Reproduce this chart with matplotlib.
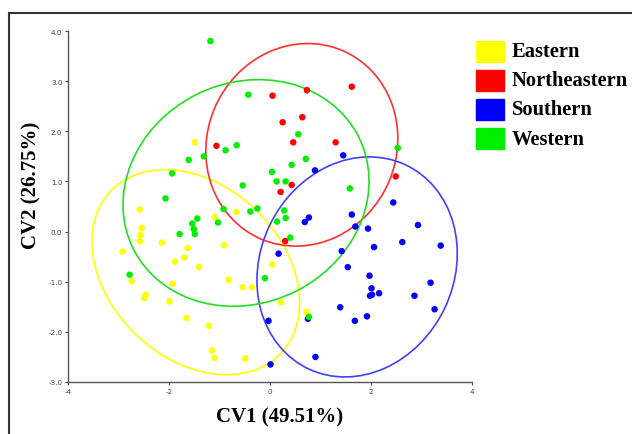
import matplotlib.pyplot as plt
import numpy as np
from matplotlib.patches import Ellipse, Rectangle
from matplotlib.lines import Line2D

plt.rcParams['axes.unicode_minus'] = False

# canonical scores
east_x = [-1.49, -2.58, -2.54, -2.57, -2.58, -2.92, -2.14, -1.63, -1.70, -1.88,
          -1.41, -1.09, -0.67, -0.91, -0.82, -0.54, -0.36, 0.04, 0.22, -2.74,
          -1.93, -2.46, -2.49, -1.99, -1.65, -1.21, 0.72, -1.15, -1.10, -0.49]
east_y = [1.78, 0.44, 0.07, -0.07, -0.19, -0.40, -0.22, -0.33, -0.52, -0.60,
          -0.71, 0.29, 0.39, -0.27, -0.96, -1.11, -1.11, -0.66, -1.41, -0.99,
          -1.04, -1.26, -1.33, -1.39, -1.72, -1.88, -1.60, -2.37, -2.52, -2.53]

ne_x = [0.73, 1.62, 0.05, 0.64, 0.25, 0.46, 1.30, -1.06, 0.43, 0.21, 2.49, 0.30]
ne_y = [2.82, 2.89, 2.71, 2.28, 2.18, 1.78, 1.78, 1.71, 0.93, 0.79, 1.10, -0.19]

south_x = [1.45, 0.89, 2.44, 1.62, 0.77, 0.69, 1.69, 1.94, 2.93, 2.62,
           2.06, 3.38, 1.42, 0.17, 1.54, 1.97, 2.01, 3.18, 1.98, 2.02,
           2.16, 2.86, 1.39, 1.92, 1.68, 3.26, -0.03, 0.75, 0.90, 0.01]
south_y = [1.52, 1.22, 0.58, 0.34, 0.28, 0.19, 0.10, 0.06, 0.13, -0.21,
           -0.31, -0.28, -0.39, -0.44, -0.71, -0.88, -1.13, -1.02, -1.28, -1.26,
           -1.23, -1.28, -1.51, -1.69, -1.78, -1.55, -1.78, -1.74, -2.50, -2.65]

west_x = [-1.18, -0.43, 0.56, -0.66, -0.88, -1.31, -1.61, -1.94, 0.71, 0.43,
          0.04, 0.13, 0.31, -0.54, 1.58, 2.53, -2.07, -0.92, -0.25, -0.39,
          0.28, -1.44, -1.54, -1.51, -1.03, 0.31, 0.14, -1.79, -1.49, 0.40,
          -2.78, -0.10, 0.77]
west_y = [3.80, 2.73, 1.94, 1.72, 1.62, 1.50, 1.43, 1.16, 1.45, 1.33,
          1.19, 1.00, 1.00, 0.92, 0.86, 1.67, 0.66, 0.45, 0.46, 0.40,
          0.42, 0.26, 0.16, 0.05, 0.18, 0.27, 0.20, -0.05, -0.05, -0.12,
          -0.86, -0.93, -1.70]

groups = ['Eastern', 'Northeastern', 'Southern', 'Western']
# group ellipses: centre, width, height, angle
ell_cx = [-1.47, 0.63, 1.725, -0.475]
ell_cy = [-0.81, 1.73, -0.705, 0.77]
ell_w = [4.67, 4.09, 4.50, 4.99]
ell_h = [3.44, 3.75, 3.84, 4.39]
ell_ang = [-44.5, 67.2, 64.9, 27.0]

dot_colors = ['#FFFF00', '#FF0000', '#0000FF', '#00EE00']
ring_colors = ['#FFFF00', '#FF3030', '#4040FF', '#20E020']

fig = plt.figure(figsize=(6.32, 4.35), dpi=100)
ax = fig.add_axes([68 / 632, 1 - 383 / 435, 404 / 632, 351 / 435])

xs = [east_x, ne_x, south_x, west_x]
ys = [east_y, ne_y, south_y, west_y]

for i in range(4):
    e = Ellipse((ell_cx[i], ell_cy[i]), ell_w[i], ell_h[i], angle=ell_ang[i],
                fill=False, edgecolor=ring_colors[i], lw=1.2, zorder=1)
    ax.add_patch(e)

for i in range(4):
    ax.scatter(xs[i], ys[i], s=22, color=dot_colors[i], edgecolors='none', zorder=3)

ax.set_xlim(-4, 4)
ax.set_ylim(-3, 4)
ax.set_xticks([-4, -2, 0, 2, 4])
ax.set_yticks(np.arange(-3, 5))
ax.set_yticklabels(['%.1f' % v for v in np.arange(-3, 5)])
ax.spines['top'].set_visible(False)
ax.spines['right'].set_visible(False)
for s in ['left', 'bottom']:
    ax.spines[s].set_color('#555555')
    ax.spines[s].set_linewidth(1.0)
ax.tick_params(colors='#444444', labelsize=5.2, length=2.5, width=0.8, pad=1.5)

serif = {'family': 'Liberation Serif', 'weight': 'bold', 'size': 15}
fig.text(280 / 632, 1 - 417 / 435, 'CV1 (49.51%)', ha='center', va='center', **serif)
fig.text(31 / 632, 1 - 185 / 435, 'CV2 (26.75%)', ha='center', va='center',
         rotation=90, **serif)

# legend
for i, g in enumerate(groups):
    yc = 52 + i * 29.2
    fig.add_artist(Rectangle((476 / 632, 1 - (yc + 10.5) / 435), 28 / 632, 21 / 435,
                             transform=fig.transFigure, color=dot_colors[i]))
    fig.text(512 / 632, 1 - yc / 435, g, ha='left', va='center',
             family='Liberation Serif', weight='bold', size=14.8)

# outer frame
fig.add_artist(Line2D([9 / 632, 1], [1 - 14 / 435] * 2, transform=fig.transFigure,
                      color='#333333', lw=1.5))
fig.add_artist(Line2D([9 / 632] * 2, [0, 1 - 14 / 435], transform=fig.transFigure,
                      color='#333333', lw=1.5))

fig.savefig('out.png', dpi=100)
